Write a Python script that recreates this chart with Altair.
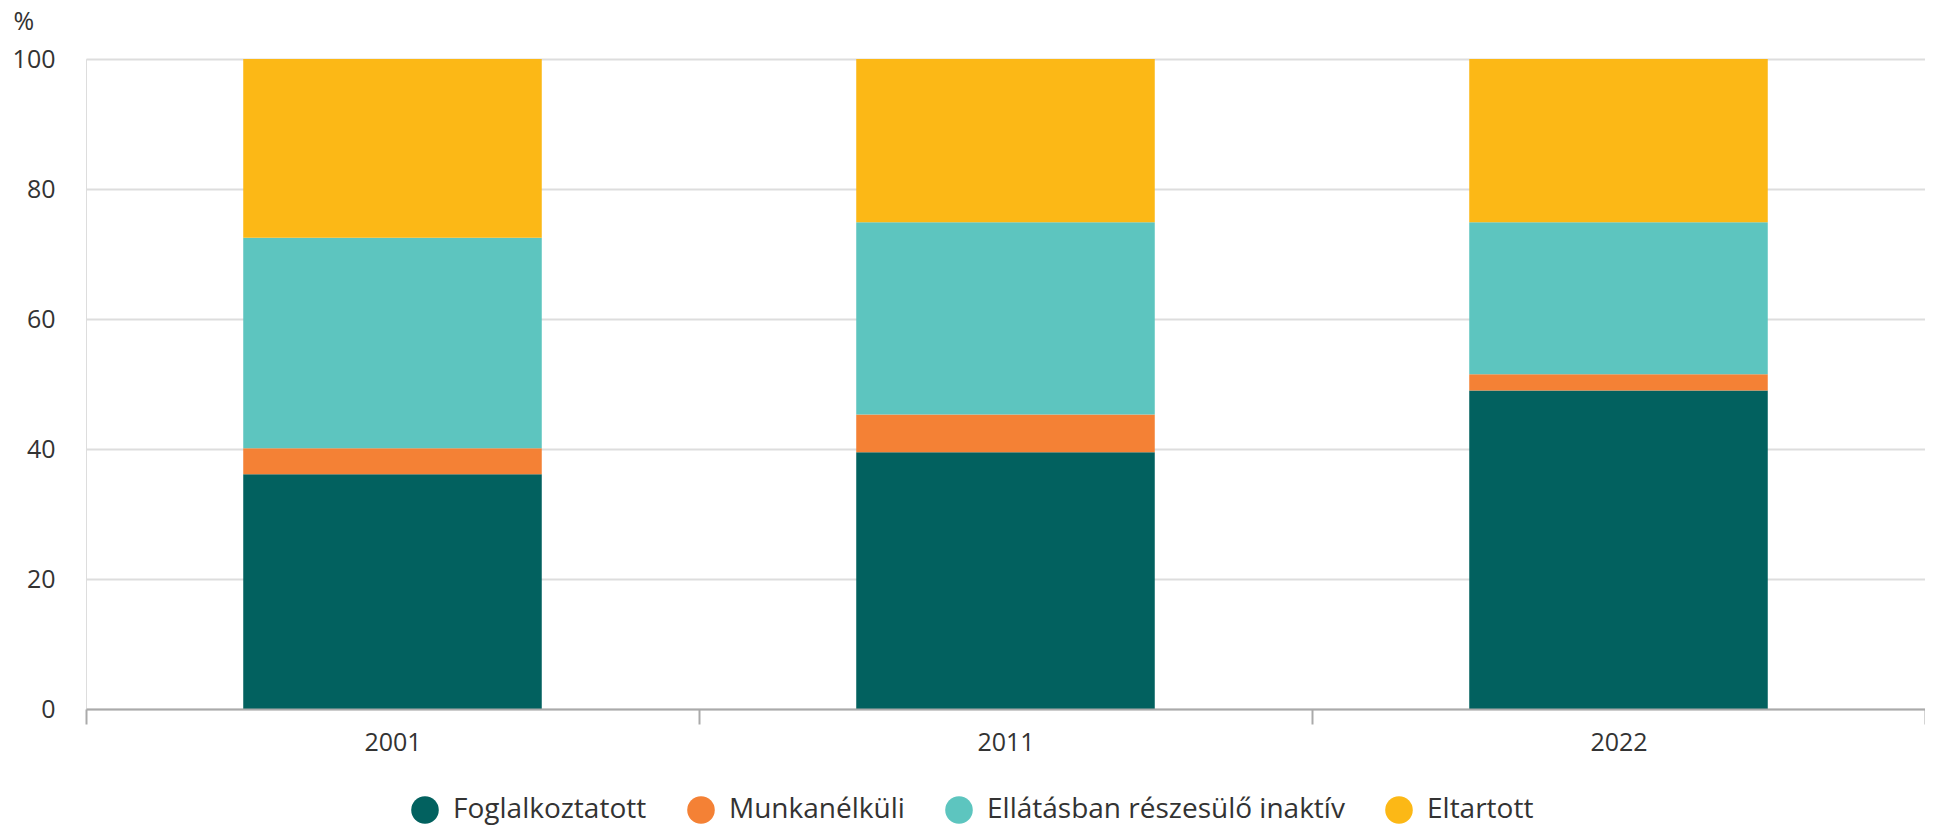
import altair as alt
import pandas as pd

years = ["2001", "2011", "2022"]
categories = ["Foglalkoztatott", "Munkanélküli", "Ellátásban részesülő inaktív", "Eltartott"]
colors = ["#02615f", "#f48135", "#5dc5bf", "#fcb816"]
foglalkoztatott = [36.1, 39.5, 49.0]
munkanelkuli = [4.0, 5.8, 2.5]
ellatasban = [32.4, 29.6, 23.4]
eltartott = [27.5, 25.1, 25.1]
y_ticks = [0, 20, 40, 60, 80, 100]

series = [foglalkoztatott, munkanelkuli, ellatasban, eltartott]
rows = []
for ci, (cat, vals) in enumerate(zip(categories, series)):
    for yr, v in zip(years, vals):
        rows.append({"ev": yr, "kategoria": cat, "ertek": v, "idx": ci})
df = pd.DataFrame(rows)

FONT = "Open Sans"
TXT = "#333333"

chart = alt.Chart(df).mark_bar(width=alt.RelativeBandSize(0.487)).encode(
    x=alt.X("ev:N", sort=years,
            scale=alt.Scale(paddingInner=0, paddingOuter=0),
            axis=alt.Axis(title=None, labelAngle=0, grid=False, tickBand="extent",
                          domainColor="#aaaaaa", domainWidth=2, tickColor="#aaaaaa",
                          tickWidth=2, tickSize=15, labelPadding=6, labelFontSize=25,
                          labelFont=FONT, labelColor=TXT, zindex=1)),
    y=alt.Y("ertek:Q", stack="zero",
            scale=alt.Scale(domain=[0, 100], nice=False),
            axis=alt.Axis(values=y_ticks, title="%", titleAngle=0, titleAlign="left",
                          titleBaseline="middle", titleX=-73, titleY=-38,
                          titleFont=FONT, titleFontSize=25, titleFontWeight="normal",
                          titleColor=TXT, domain=False, ticks=False, labelPadding=31,
                          labelFontSize=25, labelFont=FONT, labelColor=TXT,
                          gridColor="#dddddd", gridWidth=2)),
    color=alt.Color("kategoria:N",
                    scale=alt.Scale(domain=categories, range=colors),
                    legend=alt.Legend(title=None, orient="none", direction="horizontal",
                                      columns=4, legendX=325, legendY=737,
                                      symbolType="circle", symbolSize=760,
                                      symbolStrokeWidth=0, symbolOpacity=1,
                                      labelFont=FONT, labelFontSize=28, labelColor=TXT,
                                      labelOffset=14, columnPadding=40, padding=0,
                                      labelLimit=0)),
    order=alt.Order("idx:Q", sort="ascending"),
).properties(
    width=1839, height=650,
    autosize=alt.AutoSizeParams(type="none"),
    padding={"left": 78, "top": 51, "right": 0, "bottom": 120},
).configure_view(stroke=None).configure(background="white")

chart.save("out.html", embed_options={"renderer": "svg", "actions": False})
